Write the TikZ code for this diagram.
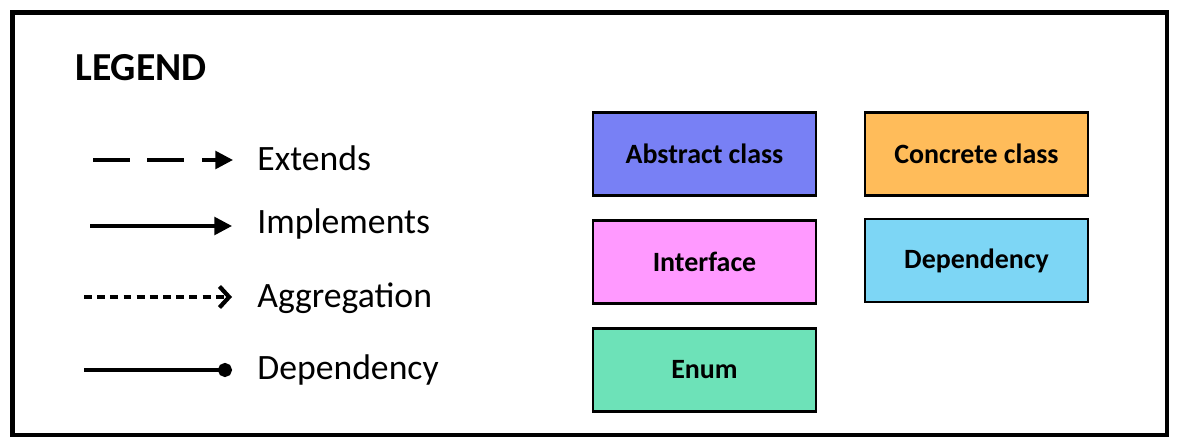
\documentclass[tikz,border=0pt]{standalone}
\usepackage{fontspec}
\setmainfont{Carlito}
\usetikzlibrary{arrows.meta}
\definecolor{abstractcol}{HTML}{7880F5}
\definecolor{concretecol}{HTML}{FFBC5A}
\definecolor{interfacecol}{HTML}{FF99FF}
\definecolor{dependcol}{HTML}{7DD6F5}
\definecolor{enumcol}{HTML}{6DE2B8}
\tikzset{
  classbox/.style={draw=black,line width=1.3pt,minimum width=4.46cm,minimum height=1.66cm,
    inner sep=0pt,font=\fontsize{15.9}{18}\selectfont\bfseries},
  legendtext/.style={anchor=west,inner sep=0pt,font=\fontsize{20.3}{24}\selectfont},
  legendline/.style={line width=2pt},
}
\begin{document}
\begin{tikzpicture}[x=0.02cm,y=-0.02cm,line cap=butt]
  \useasboundingbox (0,0) rectangle (1179,448);
  \draw[line width=2.3pt] (12.5,12.5) rectangle (1167,435);
  \node[anchor=west,inner sep=0pt,font=\fontsize{22.6}{26}\selectfont\bfseries] (title) at (75,68) {LEGEND};
  \node[legendtext] (extends) at (257,158) {Extends};
  \node[legendtext] (implements) at (257,224) {Implements};
  \node[legendtext] (aggregation) at (257,298) {Aggregation};
  \node[legendtext] (dependency) at (257,370) {Dependency};
  \coordinate (ext-a) at (93,160);
  \coordinate (ext-b) at (233,160);
  \coordinate (imp-a) at (90,226);
  \coordinate (imp-b) at (232,226);
  \coordinate (agg-a) at (84,297);
  \coordinate (agg-b) at (232,297);
  \coordinate (dep-a) at (84,370);
  \coordinate (dep-b) at (232,370);
  \draw[legendline,dash pattern=on 21pt off 10pt,-{Triangle[length=10pt,width=10pt]}] (ext-a) -- (ext-b);
  \draw[legendline,-{Triangle[length=10pt,width=10pt]}] (imp-a) -- (imp-b);
  \draw[legendline,dash pattern=on 4.5pt off 3pt,-{Straight Barb[length=5.5pt,width=12pt,line width=2.4pt]}] (agg-a) -- (agg-b);
  \draw[legendline,-{Circle[length=8pt]}] (dep-a) -- (dep-b);
  \node[classbox,fill=abstractcol] (abstract) at (704.5,154) {Abstract class};
  \node[classbox,fill=concretecol] (concrete) at (976.5,154) {Concrete class};
  \node[classbox,fill=interfacecol] (interface) at (704.5,262) {Interface};
  \node[classbox,fill=dependcol] (dependbox) at (976.5,260.5) {Dependency};
  \node[classbox,fill=enumcol] (enum) at (704.5,370) {Enum};
\end{tikzpicture}
\end{document}
